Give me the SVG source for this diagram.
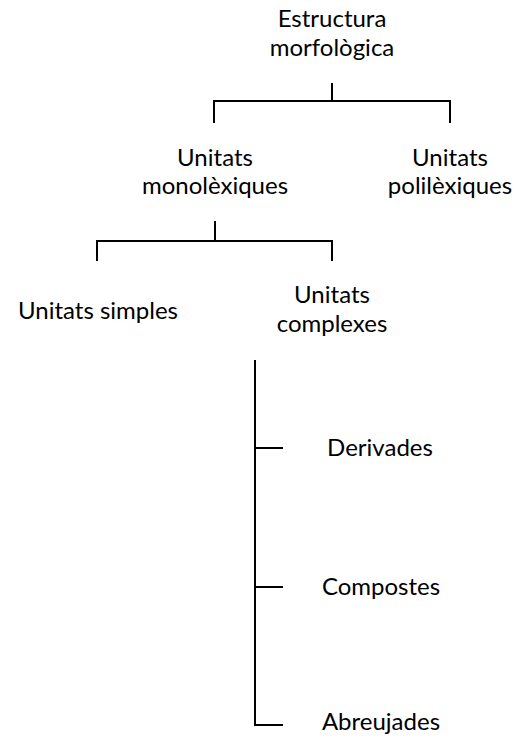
<svg xmlns="http://www.w3.org/2000/svg" width="516" height="739" viewBox="0 0 516 739">
  <style>
    text { font-family: Lato, "Open Sans", "Liberation Sans", sans-serif; font-size: 24px; fill: #000; text-anchor: middle; }
    .ln { stroke: #000; stroke-width: 2; fill: none; }
  </style>
  <rect width="516" height="739" fill="#fff"/>
  <g id="connectors">
    <path class="ln" d="M332 83 V101 M214 123 V101 H450 V123"/>
    <path class="ln" d="M215 221 V241 M97 261 V241 H332 V261"/>
    <path class="ln" d="M255 360 V725 H283 M255 448 H283 M255 587 H283"/>
  </g>
  <g id="estructura"><text x="332" y="27">Estructura</text><text x="332" y="56">morfològica</text></g>
  <g id="monolexiques"><text x="215" y="166">Unitats</text><text x="215" y="194">monolèxiques</text></g>
  <g id="polilexiques"><text x="450" y="166">Unitats</text><text x="450" y="194">polilèxiques</text></g>
  <g id="simples"><text x="98" y="319">Unitats simples</text></g>
  <g id="complexes"><text x="332" y="303">Unitats</text><text x="332" y="332">complexes</text></g>
  <g id="derivades"><text x="380" y="456">Derivades</text></g>
  <g id="compostes"><text x="381" y="595">Compostes</text></g>
  <g id="abreujades"><text x="381" y="730">Abreujades</text></g>
</svg>
